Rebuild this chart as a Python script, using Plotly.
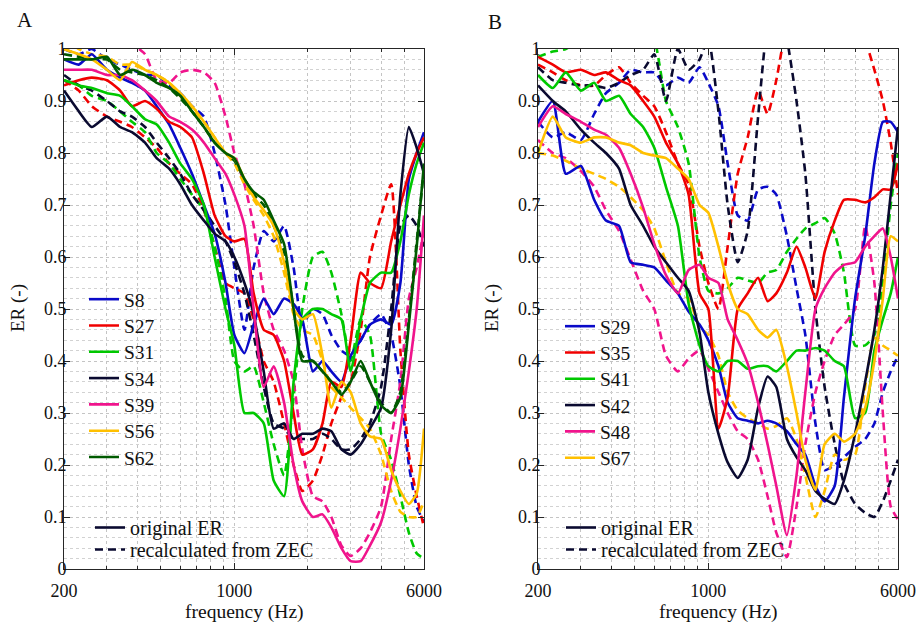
import numpy as np
import plotly.graph_objects as go

# ---------------- data ----------------
FREQ_HZ = [200, 230, 260, 300, 340, 380, 430, 480, 540, 600, 670, 750, 830, 920, 1000,
           1100, 1200, 1320, 1450, 1600, 1750, 1900, 2100, 2300, 2500, 2750, 3000, 3300,
           3600, 4000, 4400, 4800, 5200, 5600, 6000]

# Panel A : original ER (solid) and recalculated from ZEC (dashed)
s8_er = [0.98, 0.97, 0.99, 0.96, 0.945, 0.935, 0.92, 0.89, 0.855, 0.81, 0.76, 0.70, 0.645, 0.55, 0.45, 0.415, 0.47, 0.52, 0.49, 0.52, 0.51, 0.48, 0.38, 0.40, 0.38, 0.36, 0.41, 0.44, 0.47, 0.48, 0.47, 0.55, 0.75, 0.80, 0.84]
s8_zec = [1.0, 0.99, 1.0, 0.98, 0.97, 0.96, 0.95, 0.95, 0.93, 0.915, 0.89, 0.87, 0.80, 0.70, 0.58, 0.46, 0.58, 0.65, 0.63, 0.66, 0.58, 0.47, 0.50, 0.49, 0.45, 0.42, 0.41, 0.44, 0.47, 0.49, 0.45, 0.35, 0.20, 0.12, 0.09]
s27_er = [0.93, 0.94, 0.945, 0.94, 0.92, 0.89, 0.90, 0.885, 0.86, 0.85, 0.83, 0.76, 0.68, 0.64, 0.63, 0.635, 0.53, 0.46, 0.45, 0.40, 0.30, 0.22, 0.23, 0.28, 0.36, 0.35, 0.44, 0.57, 0.55, 0.54, 0.63, 0.70, 0.76, 0.80, 0.83]
s27_zec = [0.94, 0.92, 0.89, 0.87, 0.86, 0.85, 0.83, 0.81, 0.78, 0.76, 0.74, 0.69, 0.62, 0.55, 0.54, 0.53, 0.48, 0.40, 0.36, 0.28, 0.20, 0.15, 0.17, 0.22, 0.28, 0.33, 0.36, 0.46, 0.60, 0.68, 0.74, 0.42, 0.22, 0.14, 0.08]
s31_er = [0.94, 0.93, 0.925, 0.915, 0.91, 0.89, 0.865, 0.855, 0.82, 0.78, 0.75, 0.70, 0.60, 0.50, 0.43, 0.30, 0.30, 0.28, 0.17, 0.14, 0.36, 0.48, 0.50, 0.50, 0.49, 0.48, 0.38, 0.48, 0.55, 0.57, 0.57, 0.63, 0.72, 0.78, 0.82]
s31_zec = [0.94, 0.93, 0.91, 0.90, 0.88, 0.86, 0.84, 0.80, 0.78, 0.75, 0.72, 0.69, 0.62, 0.52, 0.40, 0.38, 0.39, 0.32, 0.24, 0.18, 0.33, 0.50, 0.60, 0.61, 0.57, 0.49, 0.40, 0.48, 0.45, 0.26, 0.21, 0.14, 0.07, 0.03, 0.02]
s34_er = [0.92, 0.88, 0.85, 0.87, 0.85, 0.84, 0.82, 0.79, 0.77, 0.74, 0.70, 0.67, 0.645, 0.63, 0.60, 0.55, 0.49, 0.38, 0.27, 0.28, 0.25, 0.26, 0.26, 0.27, 0.265, 0.23, 0.22, 0.24, 0.27, 0.31, 0.46, 0.72, 0.85, 0.81, 0.76]
s34_zec = [0.95, 0.93, 0.92, 0.90, 0.88, 0.87, 0.85, 0.82, 0.79, 0.76, 0.72, 0.69, 0.66, 0.63, 0.59, 0.53, 0.45, 0.35, 0.28, 0.27, 0.25, 0.25, 0.25, 0.26, 0.25, 0.23, 0.23, 0.25, 0.28, 0.35, 0.50, 0.66, 0.68, 0.66, 0.62]
s39_er = [0.96, 0.96, 0.96, 0.95, 0.95, 0.94, 0.92, 0.90, 0.87, 0.86, 0.845, 0.82, 0.79, 0.76, 0.72, 0.66, 0.50, 0.35, 0.39, 0.32, 0.20, 0.13, 0.10, 0.105, 0.08, 0.04, 0.015, 0.015, 0.045, 0.09, 0.17, 0.27, 0.38, 0.50, 0.68]
s39_zec = [1.02, 1.02, 1.02, 1.02, 1.02, 1.01, 0.99, 0.94, 0.935, 0.955, 0.96, 0.955, 0.935, 0.87, 0.80, 0.74, 0.66, 0.53, 0.46, 0.42, 0.36, 0.23, 0.14, 0.13, 0.10, 0.045, 0.025, 0.04, 0.07, 0.12, 0.25, 0.36, 0.52, 0.58, 0.65]
s56_er = [1.0, 0.99, 0.98, 0.96, 0.94, 0.975, 0.96, 0.95, 0.935, 0.915, 0.89, 0.86, 0.83, 0.80, 0.79, 0.75, 0.715, 0.69, 0.66, 0.59, 0.50, 0.48, 0.49, 0.41, 0.31, 0.36, 0.34, 0.28, 0.255, 0.25, 0.19, 0.15, 0.125, 0.145, 0.27]
s56_zec = [1.02, 1.0, 0.99, 0.985, 0.97, 0.97, 0.96, 0.95, 0.935, 0.91, 0.885, 0.86, 0.83, 0.80, 0.78, 0.74, 0.71, 0.68, 0.64, 0.57, 0.49, 0.46, 0.45, 0.40, 0.35, 0.33, 0.31, 0.29, 0.27, 0.22, 0.15, 0.11, 0.10, 0.10, 0.13]
s62_er = [0.98, 0.98, 0.98, 0.985, 0.95, 0.96, 0.95, 0.935, 0.925, 0.91, 0.88, 0.85, 0.82, 0.80, 0.79, 0.75, 0.725, 0.71, 0.67, 0.625, 0.50, 0.40, 0.40, 0.38, 0.36, 0.335, 0.36, 0.40, 0.36, 0.315, 0.30, 0.33, 0.47, 0.62, 0.78]
s62_zec = [0.99, 0.985, 0.98, 0.98, 0.96, 0.955, 0.95, 0.94, 0.925, 0.905, 0.88, 0.85, 0.82, 0.80, 0.785, 0.75, 0.72, 0.70, 0.66, 0.61, 0.50, 0.41, 0.40, 0.38, 0.36, 0.34, 0.36, 0.39, 0.36, 0.32, 0.30, 0.34, 0.48, 0.63, 0.77]

# Panel B
s29_er = [0.86, 0.90, 0.76, 0.775, 0.71, 0.67, 0.66, 0.59, 0.585, 0.58, 0.555, 0.53, 0.495, 0.47, 0.44, 0.39, 0.32, 0.29, 0.285, 0.28, 0.285, 0.28, 0.265, 0.24, 0.22, 0.16, 0.13, 0.16, 0.33, 0.52, 0.64, 0.78, 0.86, 0.86, 0.84]
s29_zec = [0.86, 0.83, 0.84, 0.825, 0.875, 0.915, 0.935, 0.96, 0.955, 0.955, 0.93, 0.945, 0.935, 0.965, 0.935, 0.89, 0.78, 0.68, 0.67, 0.73, 0.735, 0.72, 0.64, 0.54, 0.45, 0.28, 0.19, 0.20, 0.215, 0.235, 0.25, 0.28, 0.34, 0.38, 0.41]
s35_er = [0.985, 0.97, 0.955, 0.96, 0.95, 0.955, 0.94, 0.93, 0.90, 0.87, 0.82, 0.78, 0.72, 0.53, 0.50, 0.27, 0.33, 0.50, 0.53, 0.56, 0.515, 0.53, 0.57, 0.62, 0.58, 0.52, 0.61, 0.67, 0.71, 0.71, 0.705, 0.715, 0.73, 0.73, 0.78]
s35_zec = [0.97, 0.955, 0.94, 0.93, 0.93, 0.95, 0.965, 0.935, 0.91, 0.89, 0.84, 0.78, 0.74, 0.62, 0.55, 0.50, 0.62, 0.76, 0.83, 0.92, 0.875, 0.94, 1.05, 1.1, 1.1, 1.1, 1.1, 1.1, 1.1, 1.1, 1.02, 0.96, 0.90, 0.82, 0.72]
s41_er = [0.95, 0.925, 0.955, 0.92, 0.935, 0.90, 0.91, 0.875, 0.85, 0.81, 0.735, 0.66, 0.51, 0.43, 0.39, 0.38, 0.40, 0.40, 0.385, 0.39, 0.39, 0.38, 0.40, 0.42, 0.42, 0.425, 0.42, 0.40, 0.39, 0.29, 0.30, 0.42, 0.48, 0.53, 0.60]
s41_zec = [0.985, 0.995, 1.0, 1.02, 1.05, 1.05, 1.05, 1.05, 1.05, 1.02, 0.90, 0.85, 0.78, 0.60, 0.535, 0.53, 0.54, 0.56, 0.555, 0.55, 0.57, 0.575, 0.61, 0.635, 0.655, 0.665, 0.675, 0.645, 0.57, 0.43, 0.43, 0.45, 0.55, 0.70, 0.80]
s42_er = [0.93, 0.90, 0.88, 0.845, 0.82, 0.80, 0.77, 0.70, 0.66, 0.62, 0.59, 0.56, 0.535, 0.455, 0.34, 0.26, 0.205, 0.175, 0.21, 0.31, 0.37, 0.35, 0.25, 0.215, 0.19, 0.15, 0.135, 0.125, 0.17, 0.26, 0.36, 0.46, 0.58, 0.72, 0.85]
s42_zec = [0.965, 0.94, 0.935, 0.93, 0.93, 0.925, 0.935, 0.95, 0.96, 0.99, 0.90, 1.0, 0.96, 0.98, 1.02, 0.88, 0.70, 0.59, 0.65, 0.87, 1.05, 1.1, 1.02, 0.90, 0.76, 0.50, 0.35, 0.24, 0.165, 0.125, 0.108, 0.10, 0.13, 0.17, 0.21]
s48_er = [0.85, 0.89, 0.875, 0.86, 0.845, 0.835, 0.81, 0.76, 0.695, 0.625, 0.565, 0.53, 0.575, 0.585, 0.56, 0.55, 0.48, 0.44, 0.395, 0.32, 0.24, 0.16, 0.065, 0.18, 0.34, 0.50, 0.54, 0.57, 0.585, 0.59, 0.62, 0.64, 0.655, 0.60, 0.52]
s48_zec = [0.825, 0.80, 0.79, 0.765, 0.735, 0.69, 0.65, 0.595, 0.535, 0.50, 0.41, 0.38, 0.405, 0.42, 0.385, 0.34, 0.30, 0.265, 0.25, 0.21, 0.14, 0.07, 0.023, 0.12, 0.24, 0.34, 0.40, 0.45, 0.47, 0.50, 0.66, 0.55, 0.30, 0.12, 0.095]
s67_er = [0.80, 0.87, 0.83, 0.82, 0.83, 0.83, 0.82, 0.815, 0.80, 0.795, 0.79, 0.77, 0.75, 0.70, 0.685, 0.62, 0.55, 0.50, 0.49, 0.46, 0.445, 0.46, 0.39, 0.30, 0.21, 0.152, 0.24, 0.26, 0.245, 0.26, 0.31, 0.40, 0.52, 0.64, 0.63]
s67_zec = [0.80, 0.795, 0.785, 0.77, 0.76, 0.75, 0.735, 0.715, 0.69, 0.655, 0.59, 0.53, 0.52, 0.465, 0.45, 0.41, 0.34, 0.305, 0.29, 0.28, 0.27, 0.275, 0.29, 0.25, 0.18, 0.10, 0.15, 0.22, 0.21, 0.22, 0.35, 0.445, 0.43, 0.42, 0.41]

NAMES_A = ["S8", "S27", "S31", "S34", "S39", "S56", "S62"]
NAMES_B = ["S29", "S35", "S41", "S42", "S48", "S67"]
X_TICKS = [200, 1000, 6000]
X_MINOR = [300, 400, 500, 600, 700, 800, 900, 2000, 3000, 4000, 5000]
Y_TICKS = [0, 0.1, 0.2, 0.3, 0.4, 0.5, 0.6, 0.7, 0.8, 0.9, 1]
Y_LABELS = ["0", "0.1", "0.2", "0.3", "0.4", "0.5", "0.6", "0.7", "0.8", "0.9", "1"]
STYLE_LABELS = ["original ER", "recalculated from ZEC"]

# ---------------- style ----------------
BLUE, RED, GREEN, NAVY = "#0A0AC8", "#F00000", "#00C800", "#0A0A30"
MAGENTA, YELLOW, DKGREEN = "#F0148C", "#FFC000", "#005A00"
FONT = "Liberation Serif, Times New Roman, serif"
LW = 2.6
DASH = "8px,5px"
TXT = "#111111"

series_A = [(NAMES_A[0], s8_er, s8_zec, BLUE), (NAMES_A[1], s27_er, s27_zec, RED),
            (NAMES_A[2], s31_er, s31_zec, GREEN), (NAMES_A[3], s34_er, s34_zec, NAVY),
            (NAMES_A[4], s39_er, s39_zec, MAGENTA), (NAMES_A[5], s56_er, s56_zec, YELLOW),
            (NAMES_A[6], s62_er, s62_zec, DKGREEN)]
series_B = [(NAMES_B[0], s29_er, s29_zec, BLUE), (NAMES_B[1], s35_er, s35_zec, RED),
            (NAMES_B[2], s41_er, s41_zec, GREEN), (NAMES_B[3], s42_er, s42_zec, NAVY),
            (NAMES_B[4], s48_er, s48_zec, MAGENTA), (NAMES_B[5], s67_er, s67_zec, YELLOW)]

W, H = 917, 625
def px(x): return x / W
def py(y): return 1 - y / H

fig = go.Figure()
legends = {}
leg_counter = [0]

def new_legend(x_left, y_center, size):
    leg_counter[0] += 1
    key = "legend" if leg_counter[0] == 1 else "legend%d" % leg_counter[0]
    legends[key] = dict(x=px(x_left), y=py(y_center - 20), xanchor="left", yanchor="top",
                        bgcolor="rgba(0,0,0,0)", borderwidth=0,
                        font=dict(family=FONT, size=size, color=TXT), itemclick=False)
    return key

def add_panel(series, xa, ya, leg_x, first_y, style_x):
    for name, er, zec, col in series:
        fig.add_trace(go.Scatter(x=FREQ_HZ, y=zec, mode="lines", xaxis=xa, yaxis=ya,
                                 line=dict(color=col, width=LW, dash=DASH, shape="spline", smoothing=0.5),
                                 showlegend=False, hoverinfo="skip"))
    for i, (name, er, zec, col) in enumerate(series):
        key = new_legend(leg_x, first_y + i * 26.3, 19.5)
        fig.add_trace(go.Scatter(x=FREQ_HZ, y=er, mode="lines", xaxis=xa, yaxis=ya, name=name,
                                 line=dict(color=col, width=LW, shape="spline", smoothing=0.5),
                                 legend=key))
    key = new_legend(style_x, 528, 20)
    fig.add_trace(go.Scatter(x=[None], y=[None], mode="lines", xaxis=xa, yaxis=ya,
                             name=STYLE_LABELS[0], line=dict(color=NAVY, width=LW), legend=key))
    key = new_legend(style_x, 550, 20)
    fig.add_trace(go.Scatter(x=[None], y=[None], mode="lines", xaxis=xa, yaxis=ya,
                             name=STYLE_LABELS[1], line=dict(color=NAVY, width=LW, dash=DASH),
                             legend=key))

add_panel(series_A, "x", "y", 84, 300, 90)
add_panel(series_B, "x2", "y2", 560, 327, 561)

GRID = "#c4c4c4"
AXC = "#262626"
xax = dict(type="log", range=[np.log10(200), np.log10(6000)], tickmode="array",
           tickvals=X_TICKS, ticktext=[str(v) for v in X_TICKS], ticks="inside", ticklen=6,
           tickcolor=AXC, showline=True, linecolor=AXC, linewidth=1, mirror="ticks",
           showgrid=True, gridcolor=GRID, griddash="dot", gridwidth=1, zeroline=False,
           tickfont=dict(family=FONT, size=18, color=TXT), automargin=False,
           ticklabelstandoff=5,
           minor=dict(tickmode="array", tickvals=X_MINOR, ticks="inside", ticklen=3,
                      tickcolor=AXC, showgrid=True, gridcolor=GRID, griddash="dot", gridwidth=1))
yax = dict(range=[0, 1], tickmode="array", tickvals=Y_TICKS, ticktext=Y_LABELS,
           ticks="inside", ticklen=6, tickcolor=AXC, showline=True, linecolor=AXC, linewidth=1,
           mirror="ticks", showgrid=True, gridcolor=GRID, griddash="dot", gridwidth=1,
           zeroline=False, tickfont=dict(family=FONT, size=18, color=TXT), automargin=False,
           ticklabelstandoff=-7,
           minor=dict(dtick=0.02, tick0=0, ticks="", showgrid=True, gridcolor="#d2d2d2",
                      griddash="dot", gridwidth=1))

def ann(text, x, y, size, angle=0):
    return dict(text=text, x=px(x), y=py(y), xref="paper", yref="paper", showarrow=False,
                xanchor="center", yanchor="middle", textangle=angle,
                font=dict(family=FONT, size=size, color=TXT))

fig.update_layout(
    width=W, height=H, margin=dict(l=0, r=0, t=0, b=0),
    paper_bgcolor="white", plot_bgcolor="white",
    font=dict(family=FONT, size=18, color=TXT),
    xaxis=dict(xax, domain=[px(64), px(424)], anchor="y"),
    yaxis=dict(yax, domain=[py(569), py(49)], anchor="x"),
    xaxis2=dict(xax, domain=[px(538), px(898)], anchor="y2"),
    yaxis2=dict(yax, domain=[py(569), py(49)], anchor="x2"),
    annotations=[
        ann("A", 25, 20, 21), ann("B", 495, 22, 21),
        ann("ER (-)", 18, 308, 19, -90), ann("ER (-)", 492, 308, 19, -90),
        ann("frequency (Hz)", 244, 612, 19.5), ann("frequency (Hz)", 718, 612, 19.5),
    ],
)
fig.update_layout(**legends)

fig.write_html("out.html", config={"displayModeBar": False},
               post_script="document.body.style.margin='0px';document.body.style.overflow='hidden';")
